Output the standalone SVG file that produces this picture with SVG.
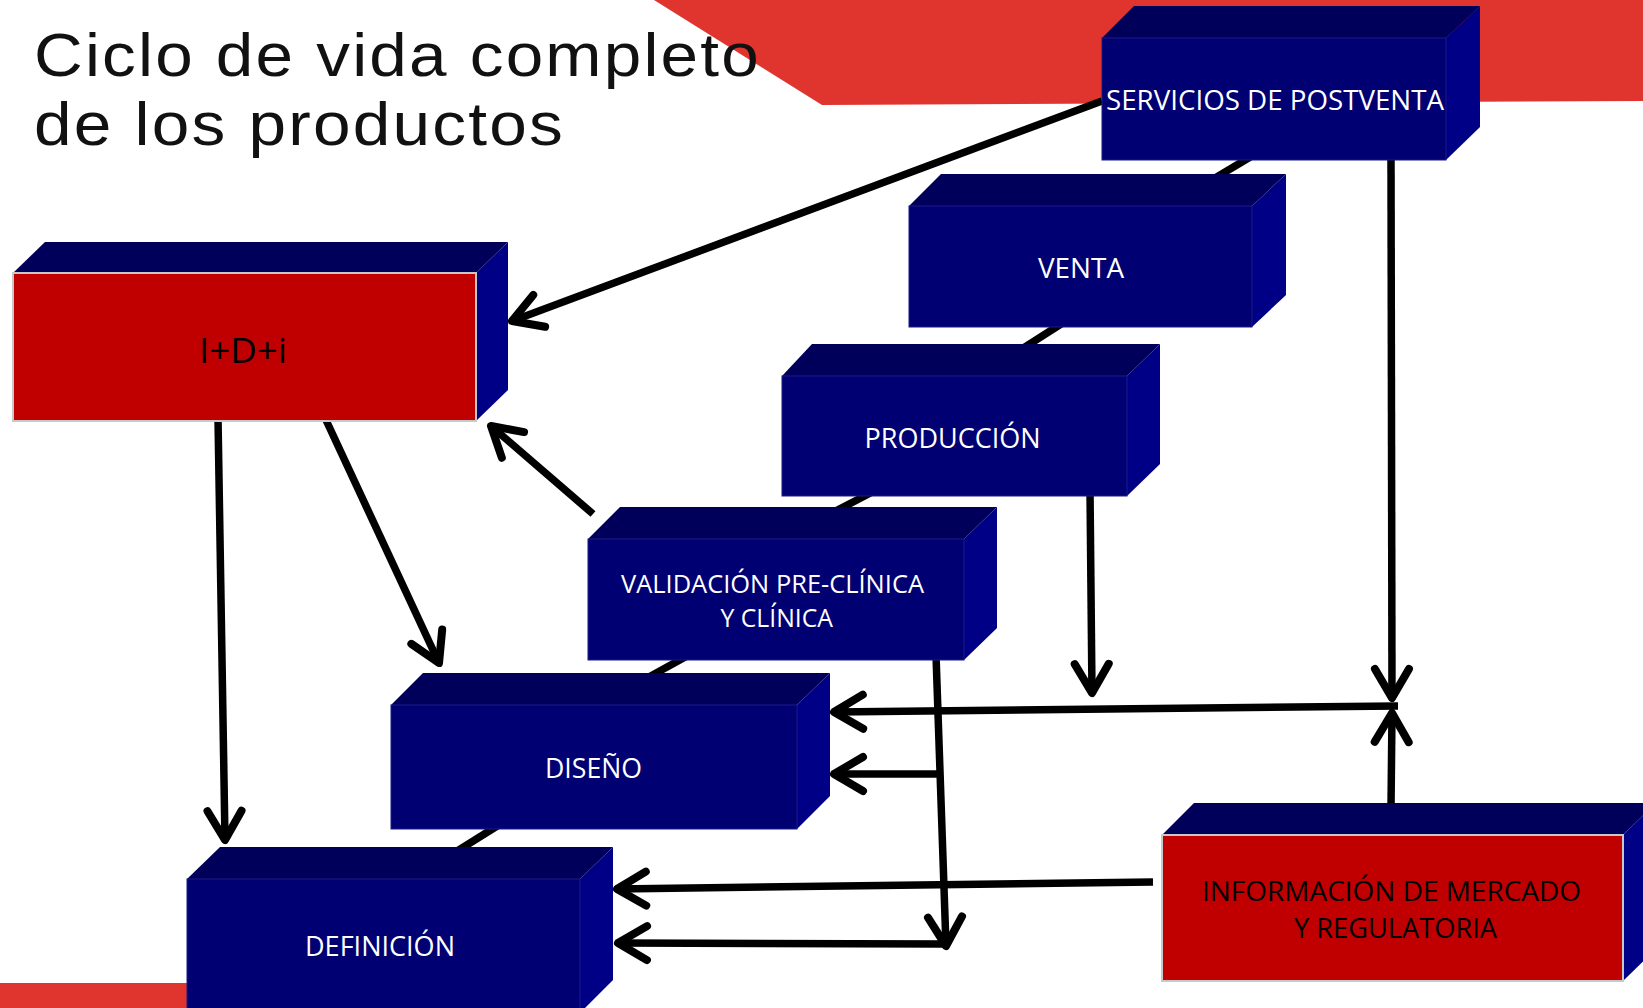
<svg xmlns="http://www.w3.org/2000/svg" width="1643" height="1008" viewBox="0 0 1643 1008">
<style>
.fb{fill:#000072;stroke:#1a1a8a;stroke-width:1}
.fr{fill:#C00000;stroke:#c8c8c8;stroke-width:2}
.tp{fill:#00005A}
.sd{fill:#000086}
.lw{font-family:"Open Sans","Liberation Sans",sans-serif;font-size:27px;fill:#ffffff}
.lb{font-family:"Open Sans","Liberation Sans",sans-serif;font-size:27px;fill:#000000}
.ttl{font-family:"Liberation Sans",Arial,sans-serif;font-size:61px;fill:#111111;letter-spacing:2px}
.cn{fill:none;stroke:#000;stroke-width:7.5;stroke-linecap:butt}
.ar{marker-end:url(#ah)}
</style>
<defs>
<marker id="ah" markerUnits="userSpaceOnUse" markerWidth="80" markerHeight="80" viewBox="-40 -40 80 80" refX="0" refY="0" orient="auto">
<path d="M-29,-17 L0,0 L-29,17" fill="none" stroke="#000" stroke-width="8" stroke-linecap="round" stroke-linejoin="round"/>
</marker>
</defs>
<rect width="1643" height="1008" fill="#ffffff"/>
<polygon points="654,0 1643,0 1643,101 822,105" fill="#E0352F"/>
<rect x="0" y="983" width="200" height="25" fill="#E0352F"/>
<g id="title">
<text class="ttl" x="34" y="76" textLength="727" lengthAdjust="spacingAndGlyphs">Ciclo de vida completo</text>
<text class="ttl" x="34" y="145" textLength="531" lengthAdjust="spacingAndGlyphs">de los productos</text>
</g>
<g id="connectors">
<path class="cn" d="M1262,150 L1205,184"/>
<path class="cn" d="M1072,317 L1014,354"/>
<path class="cn" d="M880,488 L828,515"/>
<path class="cn" d="M698,650 L638,683"/>
<path class="cn" d="M510,818 L446,858"/>
<path class="cn ar" d="M1102,101 L512,321"/>
<path class="cn ar" d="M218,418 L225,840"/>
<path class="cn ar" d="M326,420 L439,663"/>
<path class="cn ar" d="M593,514 L491,426"/>
<path class="cn ar" d="M1090,490 L1092,693"/>
<path class="cn ar" d="M1391,155 L1392,698"/>
<path class="cn ar" d="M1398,706 L834,712"/>
<path class="cn ar" d="M1391,808 L1392,713"/>
<path class="cn ar" d="M936,655 L946,946"/>
<path class="cn ar" d="M937,774 L834,774"/>
<path class="cn ar" d="M1153,882 L617,889"/>
<path class="cn ar" d="M946,944 L618,943"/>
</g>
<g id="servicios">
<polygon class="tp" points="1102,38 1134,6 1480,6 1446,38"/>
<polygon class="sd" points="1446,38 1480,6 1480,127 1446,160"/>
<rect class="fb" x="1102" y="38" width="344" height="122"/>
<text class="lw" x="1106" y="110" textLength="338" lengthAdjust="spacingAndGlyphs">SERVICIOS DE POSTVENTA</text>
</g>
<g id="venta">
<polygon class="tp" points="909,206 941,174 1286,174 1252,206"/>
<polygon class="sd" points="1252,206 1286,174 1286,295 1252,327"/>
<rect class="fb" x="909" y="206" width="343" height="121"/>
<text class="lw" x="1038" y="278" textLength="86" lengthAdjust="spacingAndGlyphs">VENTA</text>
</g>
<g id="produccion">
<polygon class="tp" points="782,376 812,344 1160,344 1127,376"/>
<polygon class="sd" points="1127,376 1160,344 1160,464 1127,496"/>
<rect class="fb" x="782" y="376" width="345" height="120"/>
<text class="lw" x="864.5" y="448" textLength="176" lengthAdjust="spacingAndGlyphs">PRODUCCIÓN</text>
</g>
<g id="validacion">
<polygon class="tp" points="588,539 620,507 997,507 964,539"/>
<polygon class="sd" points="964,539 997,507 997,628 964,660"/>
<rect class="fb" x="588" y="539" width="376" height="121"/>
<text class="lw" x="621" y="593" style="font-size:25px" textLength="303" lengthAdjust="spacingAndGlyphs">VALIDACIÓN PRE-CLÍNICA</text>
<text class="lw" x="720.5" y="627" style="font-size:25px" textLength="112.5" lengthAdjust="spacingAndGlyphs">Y CLÍNICA</text>
</g>
<g id="diseno">
<polygon class="tp" points="391,705 423,673 830,673 797,705"/>
<polygon class="sd" points="797,705 830,673 830,796 797,829"/>
<rect class="fb" x="391" y="705" width="406" height="124"/>
<text class="lw" x="545" y="778" textLength="97" lengthAdjust="spacingAndGlyphs">DISEÑO</text>
</g>
<g id="definicion">
<polygon class="tp" points="187,879 220,847 613,847 580,879"/>
<polygon class="sd" points="580,879 613,847 613,980 580,1013"/>
<rect class="fb" x="187" y="879" width="393" height="140"/>
<text class="lw" x="305" y="956" textLength="150" lengthAdjust="spacingAndGlyphs">DEFINICIÓN</text>
</g>
<g id="idi">
<polygon class="tp" points="13,273 45,242 508,242 476,273"/>
<polygon class="sd" points="476,273 508,242 508,390 476,421"/>
<rect class="fr" x="13" y="273" width="463" height="148"/>
<text class="lb" x="199" y="363" style="font-size:35px" textLength="88" lengthAdjust="spacingAndGlyphs">I+D+i</text>
</g>
<g id="informacion">
<polygon class="tp" points="1162,835 1194,803 1656,803 1623,835"/>
<polygon class="sd" points="1623,835 1656,803 1656,949 1623,981"/>
<rect class="fr" x="1162" y="835" width="461" height="146"/>
<text class="lb" x="1202" y="901" textLength="379" lengthAdjust="spacingAndGlyphs">INFORMACIÓN DE MERCADO</text>
<text class="lb" x="1294" y="938" textLength="203" lengthAdjust="spacingAndGlyphs">Y REGULATORIA</text>
</g>
</svg>
